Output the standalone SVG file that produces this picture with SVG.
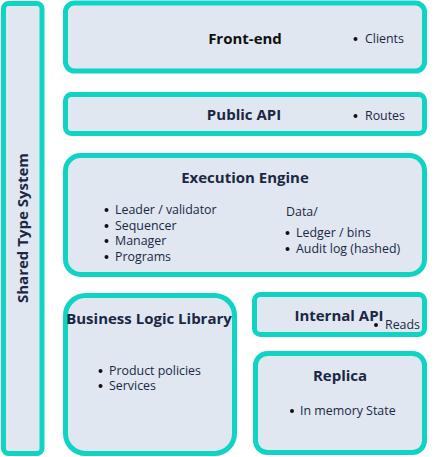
<svg xmlns="http://www.w3.org/2000/svg" width="443" height="457" viewBox="0 0 443 457">
<style>
.box{fill:#e0e7f0;stroke:#0fd3c3;stroke-width:5}
.t{font-family:"Open Sans","Noto Sans",sans-serif;font-weight:bold;font-size:15px;fill:#1a2744;text-anchor:middle}
.b{font-family:"Open Sans","Noto Sans",sans-serif;font-size:12.4px;fill:#1a2744}
.d{fill:#111}
</style>
<g id="shared-type-system">
<rect class="box" x="3.5" y="3.5" width="38.5" height="450" rx="5"/>
<text class="t" transform="translate(28,228) rotate(-90)">Shared Type System</text>
</g>
<g id="front-end">
<rect class="box" x="65.5" y="3" width="359" height="68" rx="9"/>
<text class="t" x="245" y="44" style="fill:#111">Front-end</text>
<circle class="d" cx="355.5" cy="39" r="2"/>
<text class="b" x="365" y="43">Clients</text>
</g>
<g id="public-api">
<rect class="box" x="65.5" y="94.5" width="359" height="39" rx="6"/>
<text class="t" x="244" y="120">Public API</text>
<circle class="d" cx="355.5" cy="116" r="2"/>
<text class="b" x="365" y="120">Routes</text>
</g>
<g id="execution-engine">
<rect class="box" x="65.5" y="155.5" width="359" height="119" rx="15"/>
<text class="t" x="245" y="183">Execution Engine</text>
<circle class="d" cx="106.5" cy="210" r="2"/><text class="b" x="115" y="214">Leader / validator</text>
<circle class="d" cx="106.5" cy="226" r="2"/><text class="b" x="115" y="230">Sequencer</text>
<circle class="d" cx="106.5" cy="241" r="2"/><text class="b" x="115" y="245">Manager</text>
<circle class="d" cx="106.5" cy="257" r="2"/><text class="b" x="115" y="261">Programs</text>
<text class="b" x="286" y="216">Data/</text>
<circle class="d" cx="287.5" cy="233" r="2"/><text class="b" x="296" y="237">Ledger / bins</text>
<circle class="d" cx="287.5" cy="249" r="2"/><text class="b" x="296" y="253">Audit log (hashed)</text>
</g>
<g id="business-logic-library">
<rect class="box" x="65.5" y="295.5" width="169" height="158" rx="20"/>
<text class="t" x="149" y="324">Business Logic Library</text>
<circle class="d" cx="100.5" cy="371" r="2"/><text class="b" x="109" y="375">Product policies</text>
<circle class="d" cx="100.5" cy="386" r="2"/><text class="b" x="109" y="390">Services</text>
</g>
<g id="internal-api">
<rect class="box" x="254.5" y="294.5" width="170" height="40" rx="6"/>
<text class="t" x="339" y="321">Internal API</text>
<circle class="d" cx="376" cy="325" r="2"/><text class="b" x="385" y="329">Reads</text>
</g>
<g id="replica">
<rect class="box" x="255.5" y="353.5" width="169" height="99" rx="12"/>
<text class="t" x="340" y="381">Replica</text>
<circle class="d" cx="292" cy="411" r="2"/><text class="b" x="300" y="415">In memory State</text>
</g>
<g id="connectors"/>
</svg>
